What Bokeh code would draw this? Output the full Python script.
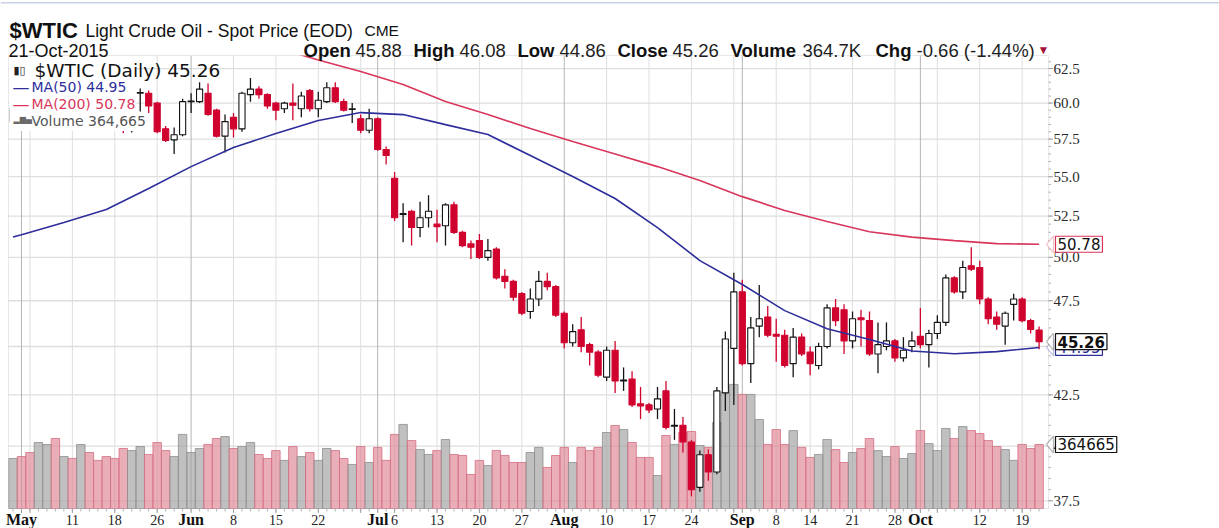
import math
import datetime as dt
from bokeh.plotting import figure
from bokeh.models import (Range1d, LinearScale, Label, LabelSet, ColumnDataSource,
                          BoxAnnotation, PolyAnnotation)
from bokeh.embed import file_html
from bokeh.resources import INLINE

# ------------------------------------------------------------------ data
dates = [
    "2015-04-30",
    "2015-05-01", "2015-05-04", "2015-05-05", "2015-05-06", "2015-05-07", "2015-05-08",
    "2015-05-11", "2015-05-12", "2015-05-13", "2015-05-14", "2015-05-15",
    "2015-05-18", "2015-05-19", "2015-05-20", "2015-05-21", "2015-05-22",
    "2015-05-26", "2015-05-27", "2015-05-28", "2015-05-29",
    "2015-06-01", "2015-06-02", "2015-06-03", "2015-06-04", "2015-06-05",
    "2015-06-08", "2015-06-09", "2015-06-10", "2015-06-11", "2015-06-12",
    "2015-06-15", "2015-06-16", "2015-06-17", "2015-06-18", "2015-06-19",
    "2015-06-22", "2015-06-23", "2015-06-24", "2015-06-25", "2015-06-26",
    "2015-06-29", "2015-06-30",
    "2015-07-01", "2015-07-02", "2015-07-06", "2015-07-07", "2015-07-08", "2015-07-09", "2015-07-10",
    "2015-07-13", "2015-07-14", "2015-07-15", "2015-07-16", "2015-07-17",
    "2015-07-20", "2015-07-21", "2015-07-22", "2015-07-23", "2015-07-24",
    "2015-07-27", "2015-07-28", "2015-07-29", "2015-07-30", "2015-07-31",
    "2015-08-03", "2015-08-04", "2015-08-05", "2015-08-06", "2015-08-07",
    "2015-08-10", "2015-08-11", "2015-08-12", "2015-08-13", "2015-08-14",
    "2015-08-17", "2015-08-18", "2015-08-19", "2015-08-20", "2015-08-21",
    "2015-08-24", "2015-08-25", "2015-08-26", "2015-08-27", "2015-08-28",
    "2015-08-31",
    "2015-09-01", "2015-09-02", "2015-09-03", "2015-09-04",
    "2015-09-08", "2015-09-09", "2015-09-10", "2015-09-11",
    "2015-09-14", "2015-09-15", "2015-09-16", "2015-09-17", "2015-09-18",
    "2015-09-21", "2015-09-22", "2015-09-23", "2015-09-24", "2015-09-25",
    "2015-09-28", "2015-09-29", "2015-09-30",
    "2015-10-01", "2015-10-02", "2015-10-05", "2015-10-06", "2015-10-07", "2015-10-08", "2015-10-09",
    "2015-10-12", "2015-10-13", "2015-10-14", "2015-10-15", "2015-10-16",
    "2015-10-19", "2015-10-20", "2015-10-21",
]

opens = [
    58.70,
    59.60, 59.10, 58.90, 60.40, 60.90, 59.00,
    59.40, 59.20, 60.70, 60.50, 59.90,
    59.70, 59.40, 58.40, 60.70, 60.70,
    60.00, 58.20, 57.45, 57.80,
    60.10, 60.10, 60.70, 59.50, 57.70,
    59.00, 58.20, 60.60, 61.00, 60.60,
    60.00, 59.60, 60.00, 59.60, 60.90,
    59.60, 60.10, 61.10, 60.10, 59.55,
    58.90, 58.10,
    58.90, 56.80, 54.90, 52.60, 52.80, 51.80, 52.40,
    52.00, 51.90, 53.20, 51.50, 50.80,
    51.00, 50.00, 50.50, 48.90, 48.60,
    47.90, 46.90, 47.60, 48.60, 48.30,
    46.80, 45.20, 45.90, 45.10, 44.70,
    43.40, 44.80, 43.20, 43.30, 42.05,
    42.00, 41.80, 42.70, 40.95, 41.00,
    40.20, 38.10, 39.60, 38.80, 42.60,
    44.90,
    48.00, 44.10, 46.10, 46.60,
    45.65, 45.60, 44.10, 45.50,
    44.70, 44.00, 45.00, 47.10, 47.00,
    45.30, 46.55, 46.40, 44.60, 45.00,
    45.30, 44.40, 45.00,
    45.55, 45.10, 45.70, 46.30, 48.80, 48.00, 49.50,
    49.40, 47.60, 46.60, 46.10, 47.30,
    47.60, 46.40, 45.88,
]

highs = [
    59.90,
    59.90, 59.50, 60.50, 61.00, 60.95, 59.80,
    59.90, 61.00, 61.00, 60.80, 60.20,
    60.30, 59.60, 59.00, 61.05, 60.90,
    60.10, 58.40, 58.30, 60.30,
    60.70, 61.50, 61.40, 59.60, 59.20,
    59.30, 60.80, 61.80, 61.20, 60.70,
    60.10, 60.10, 61.40, 60.80, 61.00,
    60.80, 61.50, 61.50, 60.30, 60.00,
    59.20, 59.60,
    59.00, 57.00, 55.30, 53.30, 52.90, 53.40, 53.80,
    52.90, 53.30, 53.40, 51.60, 51.00,
    51.40, 51.10, 50.60, 49.30, 48.70,
    48.00, 48.20, 49.20, 49.10, 48.40,
    46.90, 46.20, 46.60, 45.20, 44.80,
    45.00, 45.30, 43.90, 43.70, 42.90,
    42.10, 42.90, 43.20, 41.80, 41.40,
    40.30, 39.80, 39.85, 42.90, 45.80,
    49.10,
    48.70, 46.60, 48.40, 47.20,
    46.50, 45.90, 46.00, 45.70,
    45.00, 45.20, 47.30, 47.60, 47.30,
    46.90, 47.00, 46.90, 46.30, 46.30,
    45.40, 45.50, 45.80,
    47.10, 45.90, 46.70, 49.00, 48.90, 49.80, 50.60,
    49.80, 47.70, 46.90, 46.90, 47.90,
    47.70, 46.50, 46.08,
]

lows = [
    58.40,
    58.70, 58.40, 58.80, 59.90, 58.40, 58.50,
    58.60, 59.00, 60.10, 59.60, 59.30,
    59.00, 57.90, 57.95, 59.40, 59.30,
    57.90, 57.30, 56.50, 57.70,
    59.30, 60.00, 59.10, 57.60, 56.60,
    57.60, 58.00, 60.10, 60.30, 59.60,
    58.80, 59.30, 58.80, 59.00, 59.40,
    59.00, 60.00, 60.00, 59.40, 58.60,
    57.90, 57.90,
    56.70, 55.80, 52.20, 50.90, 50.70, 51.20, 51.80,
    50.90, 50.70, 51.40, 50.60, 49.90,
    49.90, 49.80, 48.70, 48.20, 47.50,
    46.70, 46.50, 47.20, 48.10, 46.60,
    44.90, 45.00, 44.70, 44.00, 43.40,
    43.20, 42.60, 42.70, 41.90, 41.30,
    41.60, 41.30, 40.80, 40.30, 39.70,
    37.70, 37.90, 38.40, 38.70, 41.70,
    42.00,
    44.00, 43.10, 45.50, 45.50,
    44.20, 43.90, 43.40, 44.50,
    43.50, 43.80, 44.90, 46.10, 44.60,
    44.90, 45.00, 44.50, 43.60, 44.80,
    44.20, 44.20, 44.70,
    44.90, 43.90, 45.40, 46.10, 47.90, 47.60, 49.20,
    47.30, 46.20, 45.90, 45.10, 46.40,
    46.30, 45.70, 44.86,
]

closes = [
    59.63,
    59.15, 58.93, 60.40, 60.93, 58.94, 59.39,
    59.25, 60.75, 60.50, 59.88, 59.69,
    59.43, 58.40, 58.98, 60.75, 59.80,
    58.00, 57.40, 57.80, 60.10,
    60.15, 61.00, 59.20, 57.70, 58.70,
    58.20, 60.70, 61.00, 60.60, 59.80,
    59.50, 60.00, 59.85, 60.50, 59.60,
    60.20, 61.10, 60.10, 59.50, 59.60,
    58.10, 58.90,
    56.80, 56.40, 52.40, 52.65, 51.80, 52.40, 52.80,
    51.85, 53.20, 51.50, 50.70, 50.60,
    50.00, 50.40, 48.80, 48.60, 47.70,
    46.80, 47.60, 48.60, 48.30, 46.70,
    45.20, 45.80, 45.00, 44.70, 43.50,
    44.80, 43.20, 43.25, 42.00, 41.95,
    41.75, 42.30, 40.90, 41.00, 40.20,
    38.00, 39.60, 38.80, 42.70, 45.40,
    48.00,
    44.10, 46.00, 46.50, 45.60,
    45.55, 44.00, 45.50, 44.60,
    44.10, 45.00, 47.10, 46.40, 45.30,
    46.50, 46.45, 44.60, 45.10, 45.30,
    44.40, 44.80, 45.30,
    45.10, 45.70, 46.30, 48.80, 48.00, 49.40, 49.30,
    47.60, 46.50, 46.20, 46.80, 47.60,
    46.40, 45.92, 45.26,
]

volumes = [
    285000,
    296000, 319000, 376000, 365000, 399000, 296000,
    285000, 365000, 319000, 274000, 296000,
    285000, 342000, 330000, 353000, 308000,
    376000, 330000, 296000, 422000,
    319000, 342000, 365000, 399000, 410000,
    342000, 353000, 376000, 308000, 285000,
    330000, 274000, 353000, 296000, 319000,
    274000, 342000, 330000, 285000, 251000,
    353000, 262000,
    348000, 274000, 422000, 479000, 387000, 336000, 308000,
    330000, 393000, 308000, 302000, 194000,
    274000, 245000, 330000, 302000, 262000,
    262000, 319000, 348000, 234000, 302000,
    348000, 262000, 348000, 330000, 348000,
    433000, 473000, 450000, 376000, 291000,
    291000, 188000, 416000, 365000, 433000,
    439000, 359000, 348000, 490000, 661000,
    707000,
    650000, 650000, 507000, 365000,
    450000, 365000, 444000, 348000,
    291000, 308000, 393000, 336000, 262000,
    319000, 342000, 399000, 330000, 296000,
    353000, 285000, 313000,
    444000, 370000, 330000, 456000, 399000, 467000, 444000,
    427000, 387000, 353000, 336000, 274000,
    365000, 342000, 364665,
]
prior_close = 58.58

ma50_dates = ["2015-04-30", "2015-05-01", "2015-05-08", "2015-05-15", "2015-05-22", "2015-06-01",
              "2015-06-08", "2015-06-15", "2015-06-22", "2015-06-29", "2015-07-07", "2015-07-14",
              "2015-07-21", "2015-07-28", "2015-08-04", "2015-08-11", "2015-08-18", "2015-08-25",
              "2015-09-01", "2015-09-09", "2015-09-16", "2015-09-23", "2015-09-30", "2015-10-07",
              "2015-10-14", "2015-10-21"]
ma50_values = [51.22, 51.36, 52.10, 52.91, 54.24, 55.66,
               56.93, 57.88, 58.78, 59.33, 59.19, 58.49,
               57.81, 56.39, 55.01, 53.60, 51.79, 49.81,
               48.42, 46.95, 45.96, 45.37, 44.76, 44.62,
               44.73, 44.95]

ma200_dates = ["2015-06-01", "2015-06-08", "2015-06-15", "2015-06-22", "2015-06-29", "2015-07-07",
               "2015-07-14", "2015-07-21", "2015-07-28", "2015-08-04", "2015-08-11", "2015-08-18",
               "2015-08-25", "2015-09-01", "2015-09-09", "2015-09-16", "2015-09-23", "2015-09-30",
               "2015-10-07", "2015-10-14", "2015-10-21"]
ma200_values = [66.00, 65.00, 64.07, 63.14, 62.28, 61.33,
                60.11, 59.20, 58.22, 57.33, 56.49, 55.66,
                54.75, 53.72, 52.85, 52.16, 51.54, 51.21,
                51.00, 50.82, 50.78]

xtick_dates = ["2015-05-01", "2015-05-11", "2015-05-18", "2015-05-26", "2015-06-01", "2015-06-08",
               "2015-06-15", "2015-06-22", "2015-07-01", "2015-07-06", "2015-07-13", "2015-07-20",
               "2015-07-27", "2015-08-03", "2015-08-10", "2015-08-17", "2015-08-24", "2015-09-01",
               "2015-09-08", "2015-09-14", "2015-09-21", "2015-09-28", "2015-10-01", "2015-10-12",
               "2015-10-19"]
xtick_labels = ["May", "11", "18", "26", "Jun", "8", "15", "22", "Jul", "6", "13", "20",
                "27", "Aug", "10", "17", "24", "Sep", "8", "14", "21", "28", "Oct", "12", "19"]

y_ticks = [37.5, 40.0, 42.5, 45.0, 47.5, 50.0, 52.5, 55.0, 57.5, 60.0, 62.5]
y_tick_labels = ["37.5", "40.0", "42.5", "", "47.5", "50.0", "52.5", "55.0", "57.5", "60.0", "62.5"]

symbol = "$WTIC"
title_text = "Light Crude Oil - Spot Price (EOD)"
exchange = "CME"
date_text = "21-Oct-2015"
quote_items = [("Open", "45.88"), ("High", "46.08"), ("Low", "44.86"), ("Close", "45.26"),
               ("Volume", "364.7K"), ("Chg", "-0.66 (-1.44%)")]
legend_main = "$WTIC (Daily) 45.26"
legend_ma50 = "MA(50) 44.95"
legend_ma200 = "MA(200) 50.78"
legend_vol = "Volume 364,665"
last_ma50, last_ma200, last_close, last_vol = 44.95, 50.78, 45.26, 364665

# ------------------------------------------------------------------ geometry (page pixels)
W, H = 1219, 528
PL, PR, PT, PB = 8, 1048, 55, 508          # price panel box
X0_PX, DAY_PX = 12.52, 8.48                 # first bar centre, pixels per trading day
Y_LO, Y_HI = 37.16, 63.47                   # price at panel bottom / top (log scale)
VMAX = 2581000                              # volume at panel top
K = (PB - PT) / math.log(Y_HI / Y_LO)


def px2x(px):
    return (px - X0_PX) / DAY_PX


def py2p(py):
    return Y_LO * math.exp((PB - py) / K)


def vol2p(v):
    return py2p(PB - (PB - PT) * v / VMAX)


# ------------------------------------------------------------------ derived
n = len(dates)
xs = list(range(n))
pos = {d: i for i, d in enumerate(dates)}
prev = [prior_close] + closes[:-1]
RED = "#D0022E"
BLK = "#151515"
BLUE = "#2D2D9B"
MARED = "#D8365A"
is_up = [c >= pc for c, pc in zip(closes, prev)]
ccol = [BLK if u else RED for u in is_up]
cfill = ["#FFFFFF" if c > o else col for o, c, col in zip(opens, closes, ccol)]
btop = [max(o, c) for o, c in zip(opens, closes)]
bbot = [min(o, c) for o, c in zip(opens, closes)]
vfill = ["#A2A2A2" if u else "#E08898" for u in is_up]
vline = ["#8E8E8E" if u else "#D46E82" for u in is_up]

src = ColumnDataSource(dict(x=xs, h=highs, l=lows, v=volumes, btop=btop, bbot=bbot,
                            ccol=ccol, cfill=cfill, vfill=vfill, vline=vline))

grid_x, month_x = [], []
for i in range(1, n):
    d = dt.date.fromisoformat(dates[i])
    pd_ = dt.date.fromisoformat(dates[i - 1])
    if d.month != pd_.month:
        month_x.append(i)
    elif d.isocalendar()[1] != pd_.isocalendar()[1]:
        grid_x.append(i)

# ------------------------------------------------------------------ figure (frame = whole canvas)
p = figure(width=W, height=H, output_backend="svg", toolbar_location=None,
           y_axis_type="log", x_axis_location=None, y_axis_location=None,
           x_range=Range1d(px2x(0), px2x(W)), y_range=Range1d(py2p(H), py2p(0)),
           min_border=0, background_fill_color="white", border_fill_color="white")
p.outline_line_color = None
p.grid.visible = False
p.extra_y_ranges = {"vol": Range1d(VMAX * (PB - H) / (PB - PT), VMAX * PB / (PB - PT))}
p.extra_y_scales = {"vol": LinearScale()}

xl, xr = px2x(PL), px2x(PR)
# grid
p.segment(x0=grid_x, x1=grid_x, y0=[Y_LO] * len(grid_x), y1=[Y_HI] * len(grid_x),
          line_color="#DEDEDE", line_width=1, level="underlay")
p.segment(x0=[xl] * len(y_ticks), x1=[xr] * len(y_ticks), y0=y_ticks, y1=y_ticks,
          line_color="#DEDEDE", line_width=1.3, level="underlay")
p.segment(x0=month_x, x1=month_x, y0=[Y_LO] * len(month_x), y1=[Y_HI] * len(month_x),
          line_color="#B5B5B5", line_width=1, level="underlay")

# volume overlay
p.vbar(x="x", width=1.0, top="v", bottom=0, y_range_name="vol", source=src,
       fill_color="vfill", line_color="vline", fill_alpha=0.68, line_alpha=0.8)

# candles
p.segment(x0="x", x1="x", y0="l", y1="h", line_color="ccol", line_width=1.3, source=src)
p.vbar(x="x", width=0.72, top="btop", bottom="bbot", fill_color="cfill",
       line_color="ccol", line_width=1.1, source=src)

# moving averages
p.line(x=[pos[d] for d in ma50_dates], y=ma50_values, line_color=BLUE, line_width=1.6)
p.line(x=[pos[d] for d in ma200_dates], y=ma200_values, line_color=MARED, line_width=1.6)

# right axis ticks
minor_y = [37.5 + 0.5 * k for k in range(52)]
p.segment(x0=[xr] * len(minor_y), x1=[px2x(PR + 2.5)] * len(minor_y), y0=minor_y, y1=minor_y,
          line_color="#B0B0B0", line_width=1)
p.segment(x0=[xr] * len(y_ticks), x1=[px2x(PR + 4.5)] * len(y_ticks), y0=y_ticks, y1=y_ticks,
          line_color="#A0A0A0", line_width=1)
# bottom ticks
p.segment(x0=xs, x1=xs, y0=[Y_LO] * n, y1=[py2p(PB + 3)] * n, line_color="#B4B4B4", line_width=1)
gx = grid_x + month_x
p.segment(x0=gx, x1=gx, y0=[Y_LO] * len(gx), y1=[py2p(PB + 4.5)] * len(gx),
          line_color="#A0A0A0", line_width=1)

# mask above the price panel (moving average leaving the panel) and panel outline
p.add_layout(BoxAnnotation(left=px2x(0), right=px2x(W), bottom=Y_HI, top=py2p(0),
                           fill_color="white", fill_alpha=1.0, line_alpha=0))
p.add_layout(BoxAnnotation(left=xl, right=xr, bottom=Y_LO, top=Y_HI, fill_alpha=0,
                           line_color="#B4B4B4", line_width=1))
# thin page rule at the very top
p.add_layout(BoxAnnotation(left=px2x(0), right=px2x(W), bottom=py2p(3), top=py2p(1.5),
                           fill_color="#C9D2E3", fill_alpha=1.0, line_alpha=0))
# legend background (hides the early candles like the original)
p.add_layout(BoxAnnotation(left=xl + 0.1, right=14.55, bottom=58.05, top=py2p(PT + 1),
                           fill_color="white", fill_alpha=1.0, line_alpha=0))


def lab(text, x, y, size, color="#111111", font="Liberation Sans", style="normal",
        baseline="alphabetic", align="left", **kw):
    L = Label(x=x, y=H - y, x_units="screen", y_units="screen",
              text=text, text_font=font, text_font_size=f"{size}px", text_font_style=style,
              text_color=color, text_baseline=baseline, text_align=align, **kw)
    p.add_layout(L)
    return L


# header
lab(symbol, 9, 30, 22, style="bold")
lab(title_text, 85, 30, 17.5)
lab(exchange, 364, 30, 15.5)
lab(date_text, 8, 50, 18)
qx = [(303, 355), (413, 459), (517, 559), (617, 672), (730, 802), (875, 916)]
for (name, val), (x1, x2) in zip(quote_items, qx):
    lab(name, x1, 50, 18.5, style="bold")
    lab(val, x2, 50, 18.5, color="#1E1E1E")
lab("\u25BC", 1037, 49, 12, color="#A5103A")

# legend lines
lab("\u25AE\u25AF", 13, 70, 11, color="#222222", font="DejaVu Sans", baseline="middle")
lab(legend_main, 34, 70, 18.5, font="DejaVu Sans", baseline="middle")
lab("\u2014", 12, 86, 17, color=BLUE, font="DejaVu Sans", baseline="middle")
lab(legend_ma50, 31, 86, 14, color=BLUE, font="DejaVu Sans", baseline="middle")
lab("\u2014", 12, 103, 17, color=MARED, font="DejaVu Sans", baseline="middle")
lab(legend_ma200, 31, 103, 14, color=MARED, font="DejaVu Sans", baseline="middle")
lab("\u2582\u2586\u2584", 13, 119, 8, color="#6A6A6A", font="DejaVu Sans", baseline="middle")
lab(legend_vol, 31, 120, 14, color="#555555", font="DejaVu Sans", baseline="middle")

# right axis labels
ysrc = ColumnDataSource(dict(y=[t for t, s in zip(y_ticks, y_tick_labels) if s],
                             t=[s for s in y_tick_labels if s]))
p.add_layout(LabelSet(x=px2x(PR + 5), y="y", text="t", source=ysrc, text_align="left",
                      text_baseline="middle", text_font="DejaVu Sans", text_font_size="15px",
                      text_color="#2A2A2A"))

# x labels
is_month = [not t.isdigit() for t in xtick_labels]
day_src = ColumnDataSource(dict(x=[pos[d] for d, m in zip(xtick_dates, is_month) if not m],
                                t=[t for t, m in zip(xtick_labels, is_month) if not m]))
mon_src = ColumnDataSource(dict(x=[pos[d] for d, m in zip(xtick_dates, is_month) if m],
                                t=[t for t, m in zip(xtick_labels, is_month) if m]))
p.add_layout(LabelSet(x="x", y=H - 519, y_units="screen", text="t", source=day_src,
                      text_align="center", text_baseline="middle", text_font="DejaVu Sans",
                      text_font_size="14px", text_color="#222222"))
p.add_layout(LabelSet(x="x", y=H - 519, y_units="screen", text="t", source=mon_src,
                      text_align="center", text_baseline="middle", text_font="DejaVu Sans",
                      text_font_size="16px", text_font_style="bold", text_color="#111111"))


# price tags on the right
def tag(text, yval, color, bold=False, text_color="#111111"):
    x_tip, x_base = px2x(PR - 2), px2x(PR + 5)
    k = math.exp(8.5 / K)
    p.add_layout(PolyAnnotation(xs=[x_base, x_tip, x_base], ys=[yval * k, yval, yval / k],
                                fill_color="white", fill_alpha=1.0, line_color=color,
                                line_width=1.2))
    p.add_layout(Label(x=px2x(PR + 7), y=yval, text=text,
                       text_font="DejaVu Sans", text_font_size="15px",
                       text_font_style="bold" if bold else "normal", text_color=text_color,
                       text_baseline="middle", text_align="left",
                       border_line_color=color, border_line_width=1.2,
                       background_fill_color="white", padding=2))


tag(f"{last_ma200:.2f}", last_ma200, MARED)
tag(f"{last_ma50:.2f}", last_ma50, BLUE, text_color=BLUE)
tag(f"{last_close:.2f}", last_close, "#111111", bold=True)
tag(f"{last_vol}", vol2p(last_vol), "#111111")

open("out.html", "w").write(file_html(p, INLINE))
